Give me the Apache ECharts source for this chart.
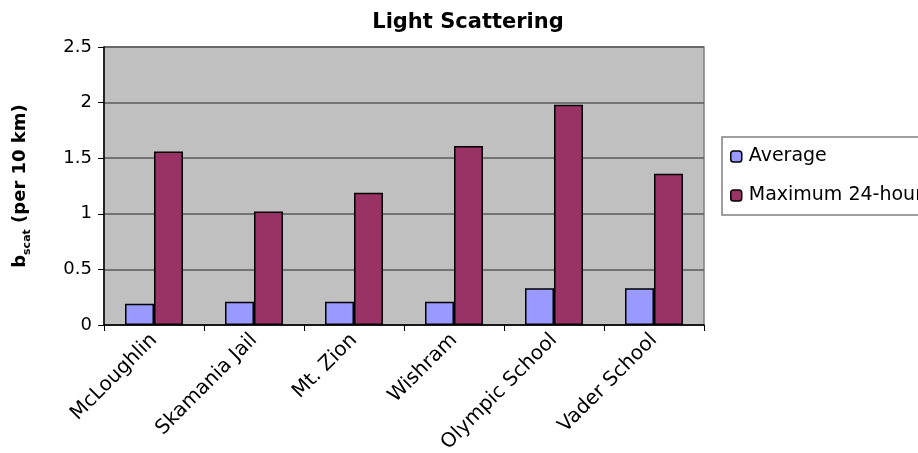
<!DOCTYPE html>
<html><head><meta charset="utf-8">
<script src="https://cdn.jsdelivr.net/npm/echarts@6/dist/echarts.min.js"></script>
<style>html,body{margin:0;padding:0;background:#fff}#c{width:918px;height:453px}</style>
</head><body><div id="c"></div>
<script>
const categories = ['McLoughlin','Skamania Jail','Mt. Zion','Wishram','Olympic School','Vader School'];
const averageValues = [0.19, 0.21, 0.21, 0.21, 0.33, 0.33];
const maxValues = [1.56, 1.02, 1.19, 1.61, 1.98, 1.36];
const yTicks = [0, 0.5, 1, 1.5, 2, 2.5];

const chart = echarts.init(document.getElementById('c'), null, {renderer:'canvas'});
const F = '"DejaVu Sans", Arial, sans-serif';
chart.setOption({
  animation:false,
  backgroundColor:'#fff',
  title:{text:'Light Scattering', left:463, top:7, textAlign:'center',
    textStyle:{fontFamily:F, fontSize:21, fontWeight:'bold', color:'#000'}},
  legend:{left:722, top:137, orient:'vertical', itemGap:20, itemWidth:11, itemHeight:11,
    padding:[10,60,10,8], borderColor:'#808080', borderWidth:1.5, backgroundColor:'#fff',
    textStyle:{fontFamily:F, fontSize:19, color:'#000', padding:[0,0,0,2]},
    data:[{name:'Average', itemStyle:{borderColor:'#000',borderWidth:1.5}},
          {name:'Maximum 24-hour', itemStyle:{borderColor:'#000',borderWidth:1.5}}]},
  grid:{left:104, right:214, top:47, bottom:128, show:true, backgroundColor:'#C0C0C0',
    borderColor:'#808080', borderWidth:1.5, containLabel:false, outerBoundsMode:'none'},
  xAxis:{type:'category', data:categories,
    axisLine:{lineStyle:{color:'#000', width:1.5}},
    axisTick:{show:true, length:6, lineStyle:{color:'#000'}},
    axisLabel:{rotate:45, fontFamily:F, fontSize:20, color:'#000', margin:12, interval:0}},
  yAxis:{type:'value', min:0, max:2.5, interval:0.5,
    name:'{b|b}{s|scat}{b| (per 10 km)}', nameLocation:'middle', nameGap:71, nameRotate:90,
    nameTextStyle:{rich:{b:{fontFamily:F, fontSize:18, fontWeight:'bold', color:'#000', lineHeight:26},
                         s:{fontFamily:F, fontSize:11, fontWeight:'bold', color:'#000', lineHeight:11, verticalAlign:'bottom'}}},
    axisLine:{show:true, lineStyle:{color:'#000', width:1.5}},
    axisTick:{show:true, length:6, lineStyle:{color:'#000'}},
    splitLine:{lineStyle:{color:'#5a5a5a', width:1.5}},
    axisLabel:{fontFamily:F, fontSize:18, color:'#000', margin:12,
      formatter: v => yTicks.includes(v) ? String(v) : ''}},
  series:[
    {name:'Average', type:'bar', data:averageValues, barGap:'0%', barCategoryGap:'42%',
      itemStyle:{color:'#9999FF', borderColor:'#000', borderWidth:1.5}},
    {name:'Maximum 24-hour', type:'bar', data:maxValues,
      itemStyle:{color:'#993366', borderColor:'#000', borderWidth:1.5}}
  ]
});
</script></body></html>
